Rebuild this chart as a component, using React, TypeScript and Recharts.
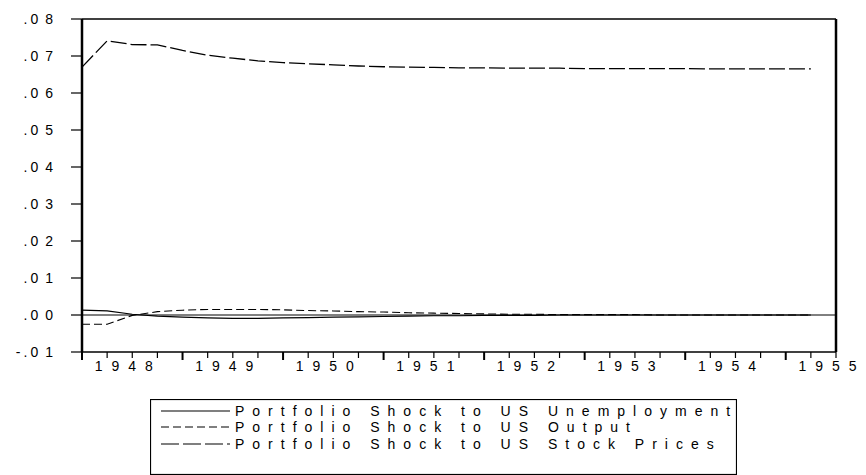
import { LineChart, Line, XAxis, YAxis, ReferenceLine, Legend } from "recharts";

document.body.style.margin = "0";

const FONT = "'Liberation Sans', Arial, sans-serif";

// quarterly periods, 1948Q1 = 0
const PERIODS = [0, 1, 2, 3, 4, 5, 6, 7, 8, 9, 10, 11, 12, 13, 14, 15, 16, 17, 18, 19, 20, 21, 22, 23, 24, 25, 26, 27, 28, 29];

const UNEMPLOYMENT = [
  0.0013, 0.0011, 0.0002, -0.0003, -0.0006, -0.0008, -0.0009, -0.0009, -0.0008, -0.0007,
  -0.0006, -0.0005, -0.0004, -0.0003, -0.0002, -0.0002, -0.0001, -0.0001, -0.0001, 0.0,
  0.0, 0.0, 0.0, 0.0, 0.0, 0.0, 0.0, 0.0, 0.0, 0.0,
];
const OUTPUT = [
  -0.0025, -0.0025, -0.0001, 0.0009, 0.0013, 0.0015, 0.0015, 0.0015, 0.0014, 0.0012,
  0.0011, 0.0009, 0.0008, 0.0006, 0.0005, 0.0004, 0.0003, 0.0002, 0.0002, 0.0001,
  0.0001, 0.0001, 0.0001, 0.0, 0.0, 0.0, 0.0, 0.0, 0.0, 0.0,
];
const STOCK_PRICES = [
  0.067, 0.0741, 0.0731, 0.073, 0.0715, 0.0702, 0.0694, 0.0687, 0.0682, 0.0679,
  0.0676, 0.0673, 0.0671, 0.067, 0.0669, 0.0668, 0.0668, 0.0667, 0.0667, 0.0667,
  0.0666, 0.0666, 0.0666, 0.0666, 0.0666, 0.0665, 0.0665, 0.0665, 0.0665, 0.0665,
];

const X_TICKS = [0, 1, 2, 3, 4, 5, 6, 7, 8, 9, 10, 11, 12, 13, 14, 15, 16, 17, 18, 19, 20, 21, 22, 23, 24, 25, 26, 27, 28, 29, 30];
const YEAR_TICKS = [2, 6, 10, 14, 18, 22, 26, 30];
const YEAR_LABELS = ["1948", "1949", "1950", "1951", "1952", "1953", "1954", "1955"];
const Y_TICKS = [-0.01, 0, 0.01, 0.02, 0.03, 0.04, 0.05, 0.06, 0.07, 0.08];

const SERIES = [
  { key: "unemployment", name: "Portfolio Shock to US Unemployment", dash: undefined, legendDash: undefined, width: 1.2 },
  { key: "output", name: "Portfolio Shock to US Output", dash: "8 4", legendDash: "8 4", width: 1.1 },
  { key: "stock", name: "Portfolio Shock to US Stock Prices", dash: "16 4", legendDash: "18 4", width: 1.3 },
];

const data = PERIODS.map((t, i) => ({
  t,
  unemployment: UNEMPLOYMENT[i],
  output: OUTPUT[i],
  stock: STOCK_PRICES[i],
}));

const fmt = (v: number) => v.toFixed(2).replace("0.", ".");

function XTick({ x, y, payload }: any) {
  const v = payload.value;
  const major = v % 4 === 0;
  const li = YEAR_TICKS.indexOf(v);
  return (
    <g>
      <line x1={x} x2={x} y1={y} y2={y + (major ? 8 : 6)} stroke="#000" strokeWidth={major ? 2 : 1.2} />
      {li >= 0 && (
        <text x={x - 4} y={y + 19} textAnchor="middle" fontSize={14} fontFamily={FONT} fill="#000" style={{ letterSpacing: "9px" }}>
          {YEAR_LABELS[li]}
        </text>
      )}
    </g>
  );
}

function YTick({ x, y, payload }: any) {
  const s = fmt(payload.value);
  return (
    <g>
      <line x1={x - 11} x2={x} y1={y} y2={y} stroke="#000" strokeWidth={1.2} />
      <text x={x - 26} y={y} dy="0.35em" textAnchor="end" fontSize={14} fontFamily={FONT} fill="#000" style={{ letterSpacing: "3px" }}>
        <tspan>{s.slice(0, -1)}</tspan>
        <tspan dx={4}>{s.slice(-1)}</tspan>
      </text>
    </g>
  );
}

function LegendBox() {
  const rows = [12, 28, 45];
  return (
    <svg width={587} height={76} style={{ display: "block" }}>
      <rect x={0.5} y={0.5} width={586} height={75} fill="#fff" stroke="#000" strokeWidth={1.2} />
      {SERIES.map((s, i) => (
        <g key={s.key}>
          <line x1={11} x2={80} y1={rows[i]} y2={rows[i]} stroke="#000" strokeWidth={1.1} strokeDasharray={s.legendDash} />
          <text x={85} y={rows[i] + 5} fontSize={14} fontFamily={FONT} fill="#000" style={{ letterSpacing: "8px" }}>
            {s.name}
          </text>
        </g>
      ))}
    </svg>
  );
}

export default function App() {
  return (
    <LineChart width={866} height={475} data={data} margin={{ top: 19, right: 30, left: 0, bottom: 0 }}>
      <XAxis
        dataKey="t"
        type="number"
        domain={[0, 30]}
        ticks={X_TICKS}
        interval={0}
        height={123}
        tickSize={0}
        tickMargin={0}
        tickLine={false}
        axisLine={{ stroke: "#000", strokeWidth: 1.5 }}
        tick={<XTick />}
      />
      <YAxis
        type="number"
        domain={[-0.01, 0.08]}
        ticks={Y_TICKS}
        interval={0}
        width={82}
        tickSize={0}
        tickMargin={0}
        tickLine={false}
        axisLine={{ stroke: "#000", strokeWidth: 2.5 }}
        tick={<YTick />}
      />
      <ReferenceLine y={0.08} stroke="#000" strokeWidth={1.5} />
      <ReferenceLine x={30} stroke="#000" strokeWidth={2.5} />
      <ReferenceLine y={0} stroke="#000" strokeWidth={1} />
      {SERIES.map((s) => (
        <Line
          key={s.key}
          type="linear"
          dataKey={s.key}
          name={s.name}
          stroke="#000"
          strokeWidth={s.width}
          strokeDasharray={s.dash}
          dot={false}
          activeDot={false}
          isAnimationActive={false}
        />
      ))}
      <Legend
        layout="horizontal"
        verticalAlign="middle"
        align="center"
        wrapperStyle={{ left: 150, top: 399, width: 587, height: 76 }}
        content={() => <LegendBox />}
      />
    </LineChart>
  );
}
